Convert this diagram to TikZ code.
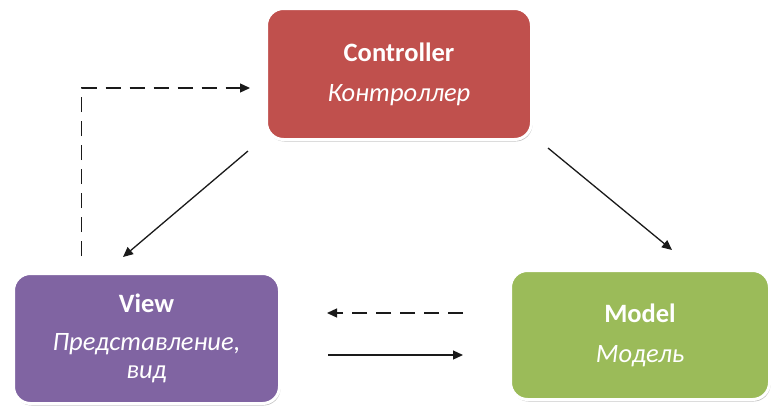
\documentclass[tikz,border=0pt]{standalone}
\usepackage{fontspec}
\setmainfont{Carlito}
\usetikzlibrary{shadows,arrows.meta,calc}
\definecolor{ctrlred}{HTML}{C0504D}
\definecolor{viewpurple}{HTML}{8064A2}
\definecolor{modelgreen}{HTML}{9BBB59}
\definecolor{arrowgray}{HTML}{1A1A1A}
\begin{document}
\begin{tikzpicture}[x=1pt,y=-1pt,
  mvcbox/.style={rectangle, rounded corners=17pt, draw=white, line width=3pt,
    align=center, text=white, inner sep=0pt,
    font=\fontsize{26.5}{30}\selectfont,
    drop shadow={shadow xshift=1pt, shadow yshift=-2pt, opacity=0.4, fill=black!60}},
  link/.style={draw=arrowgray, line width=1.3pt, -{Triangle[length=10pt,width=9pt]}},
  dashlink/.style={link, dash pattern=on 15pt off 9pt}]
\useasboundingbox[fill=white] (0,0) rectangle (771,405);
\node[mvcbox, fill=ctrlred, minimum width=265pt, minimum height=131pt] (ctrl) at (399,74)
  {\textbf{Controller}\\[10pt]\textit{Контроллер}};
\node[mvcbox, fill=viewpurple, minimum width=266pt, minimum height=130pt] (view) at (146.5,338.5)
  {\textbf{View}\\[8pt]\textit{Представление,}\\[-2pt]\textit{вид}};
\node[mvcbox, fill=modelgreen, minimum width=259pt, minimum height=129pt] (model) at (640,335)
  {\textbf{Model}\\[10pt]\textit{Модель}};
% dashed View -> Controller
\coordinate (vc0) at ($(view.north west)+(69.5,-16)$);
\coordinate (vc1) at (vc0 |- 0,88);
\coordinate (vc2) at ($(ctrl.west)+(-15,14)$);
\draw[dashlink] (vc0) -- (vc1) -- (vc2);
% Controller -> View
\coordinate (cv0) at (248,151);
\coordinate (cv1) at (123,257);
\draw[link] (cv0) -- (cv1);
% Controller -> Model
\coordinate (cm0) at (548,148);
\coordinate (cm1) at (672,250);
\draw[link] (cm0) -- (cm1);
% Model -> View dashed
\coordinate (mv0) at (463,313);
\coordinate (mv1) at (327,313);
\draw[dashlink] (mv0) -- (mv1);
% View -> Model
\coordinate (vm0) at (328,355);
\coordinate (vm1) at (463,355);
\draw[link] (vm0) -- (vm1);
\end{tikzpicture}
\end{document}
